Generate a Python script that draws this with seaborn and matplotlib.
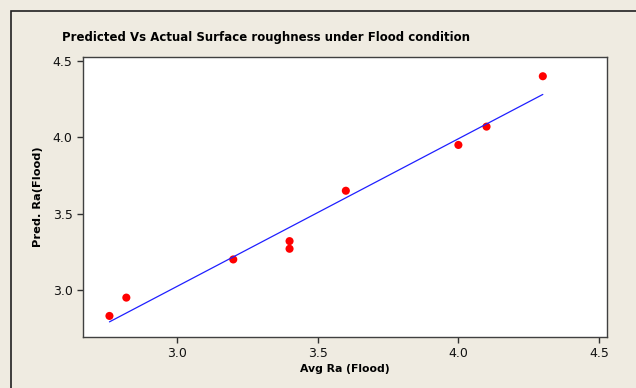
import matplotlib
matplotlib.use("Agg")
import matplotlib.pyplot as plt
import seaborn as sns
import pandas as pd
from matplotlib.patches import Rectangle

# values
avg_ra = [2.76, 2.82, 3.20, 3.40, 3.40, 3.60, 4.00, 4.10, 4.30]
pred_ra = [2.83, 2.95, 3.20, 3.32, 3.27, 3.65, 3.95, 4.07, 4.40]
x_ticks = [3.0, 3.5, 4.0, 4.5]
y_ticks = [3.0, 3.5, 4.0, 4.5]

df = pd.DataFrame({"Avg Ra (Flood)": avg_ra, "Pred. Ra(Flood)": pred_ra})

sns.set_style("ticks")
plt.rcParams["font.family"] = ["DejaVu Sans Condensed", "DejaVu Sans"]
plt.rcParams["text.color"] = "black"
plt.rcParams["axes.labelcolor"] = "black"

bg = "#efebe1"
fig = plt.figure(figsize=(6.36, 3.88), dpi=100, facecolor=bg)
# outer frame like the minitab graph window
fig.patches.append(Rectangle((11 / 636, -0.1), 1.2, 1 - 10.5 / 388 + 0.1,
                             transform=fig.transFigure, fill=False,
                             edgecolor="#202020", linewidth=1.2))

ax = fig.add_axes([83 / 636, 1 - 336.7 / 388, (606.7 - 83) / 636, (336.7 - 56.7) / 388])
ax.set_facecolor("white")

sns.regplot(data=df, x="Avg Ra (Flood)", y="Pred. Ra(Flood)", ci=None, ax=ax,
            scatter_kws={"color": "#ff0000", "s": 34, "edgecolor": "none", "alpha": 1},
            line_kws={"color": "#1f1fff", "linewidth": 0.9})

ax.set_xlim(2.666, 4.527)
ax.set_ylim(2.694, 4.528)
ax.set_xticks(x_ticks)
ax.set_yticks(y_ticks)
ax.set_xticklabels([f"{v:.1f}" for v in x_ticks])
ax.set_yticklabels([f"{v:.1f}" for v in y_ticks])
ax.tick_params(direction="out", length=4, width=1, colors="#303030",
               labelsize=9, labelcolor="#111111")

for s in ax.spines.values():
    s.set_visible(True)
    s.set_color("#404040")
    s.set_linewidth(1)

ax.set_xlabel("Avg Ra (Flood)", fontsize=7.8, fontweight="bold", labelpad=3)
ax.set_ylabel("Pred. Ra(Flood)", fontsize=8.2, fontweight="bold", labelpad=7)
fig.text(0.418, 1 - 37 / 388, "Predicted Vs Actual Surface roughness under Flood condition",
         ha="center", va="center", fontsize=8.5, fontweight="bold")

fig.savefig("out.png", dpi=100, facecolor=bg)
